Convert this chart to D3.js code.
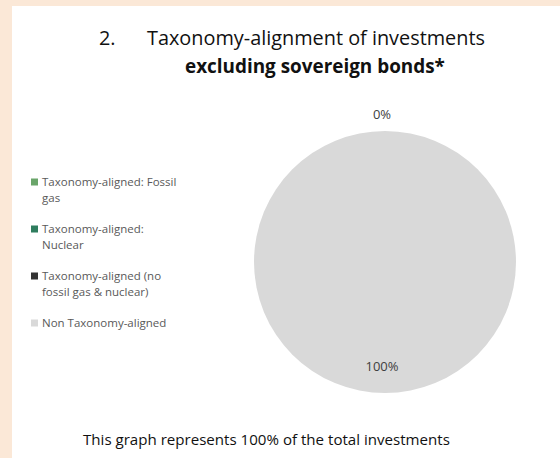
<!DOCTYPE html>
<html>
<head>
<meta charset="utf-8">
<script src="https://cdn.jsdelivr.net/npm/d3@7"></script>
<style>
  html, body { margin: 0; padding: 0; background: #fbe8d7; }
  svg { display: block; }
</style>
</head>
<body>
<svg id="chart" width="560" height="458"></svg>
<script>
// ---- data ----
const categories = [
  "Taxonomy-aligned: Fossil gas",
  "Taxonomy-aligned: Nuclear",
  "Taxonomy-aligned (no fossil gas & nuclear)",
  "Non Taxonomy-aligned"
];
const values = [0, 0, 0, 100];
const colors = ["#6aa56a", "#2f7d5e", "#333333", "#d9d9d9"];
const titleNumber = "2.";
const titleLine1 = "Taxonomy-alignment of investments";
const titleLine2 = "excluding sovereign bonds*";
const footnote = "This graph represents 100% of the total investments";

const svg = d3.select("#chart");
const W = 560, H = 458;

// white panel
svg.append("rect").attr("x", 12).attr("y", 6).attr("width", W - 12).attr("height", H - 6).attr("fill", "#ffffff");

const font = "'Open Sans', 'Liberation Sans', sans-serif";

function fitText(sel, targetW) {
  const n = sel.node();
  const w = n.getComputedTextLength();
  const fs = parseFloat(sel.attr("font-size"));
  sel.attr("font-size", (fs * targetW / w).toFixed(2));
}

// title
const t0 = svg.append("text").attr("x", 99).attr("y", 45).attr("font-family", font)
  .attr("font-size", 19).attr("fill", "#111").text(titleNumber);
const t1 = svg.append("text").attr("x", 147).attr("y", 45).attr("font-family", font)
  .attr("font-size", 19).attr("fill", "#111").text(titleLine1);
fitText(t1, 338);
t0.attr("font-size", t1.attr("font-size"));
const t2 = svg.append("text").attr("x", 185).attr("y", 73).attr("font-family", font)
  .attr("font-size", 18).attr("font-weight", "bold").attr("fill", "#111").text(titleLine2);
fitText(t2, 260);

// footnote
const fn = svg.append("text").attr("x", 83).attr("y", 445).attr("font-family", font)
  .attr("font-size", 13).attr("fill", "#111").text(footnote);
fitText(fn, 367);

// pie
const cx = 385, cy = 262, r = 131;
const pie = d3.pie().sort(null).value(d => d.v);
const arcs = pie(categories.map((c, i) => ({ c, v: values[i], color: colors[i] })));
const arc = d3.arc().innerRadius(0).outerRadius(r);
const g = svg.append("g").attr("transform", `translate(${cx},${cy})`);
g.selectAll("path").data(arcs).join("path")
  .attr("d", arc).attr("fill", d => d.data.color);

const total = d3.sum(values);
const fmt = v => Math.round(v / total * 100) + "%";
const outerLabel = d3.arc().innerRadius(r + 17).outerRadius(r + 17);
const innerLabel = d3.arc().innerRadius(r * 0.8).outerRadius(r * 0.8);
// zero-value slices share one position; label it once
const labelArcs = arcs.filter((d, i) => d.data.v !== 0 || arcs.findIndex(e => e.data.v === 0) === i);
g.selectAll("text.lbl").data(labelArcs).join("text")
  .attr("class", "lbl")
  .attr("transform", d => {
    const p = (d.data.v === 0 ? outerLabel : innerLabel).centroid(d);
    return `translate(${p[0] - 3},${p[1]})`;
  })
  .attr("text-anchor", "middle").attr("dy", "0.35em")
  .attr("font-family", font).attr("font-size", 13).attr("fill", "#404040")
  .text(d => fmt(d.data.v));

// legend
const legX = 31, legY0 = 182, itemGap = 47, lineH = 16, wrapW = 145;
const leg = svg.append("g");
categories.forEach((c, i) => {
  const y = legY0 + i * itemGap;
  leg.append("rect").attr("x", legX).attr("y", y - 3.5).attr("width", 7).attr("height", 7)
    .attr("fill", colors[i]);
  const txt = leg.append("text").attr("x", legX + 11).attr("y", y + 4)
    .attr("font-family", font).attr("font-size", 11.5).attr("fill", "#595959");
  const words = c.split(" ");
  let line = [], tsp = txt.append("tspan").attr("x", legX + 11).attr("dy", 0);
  words.forEach(w => {
    line.push(w);
    tsp.text(line.join(" "));
    if (tsp.node().getComputedTextLength() > wrapW && line.length > 1) {
      line.pop();
      tsp.text(line.join(" "));
      line = [w];
      tsp = txt.append("tspan").attr("x", legX + 11).attr("dy", lineH).text(w);
    }
  });
});
</script>
</body>
</html>
